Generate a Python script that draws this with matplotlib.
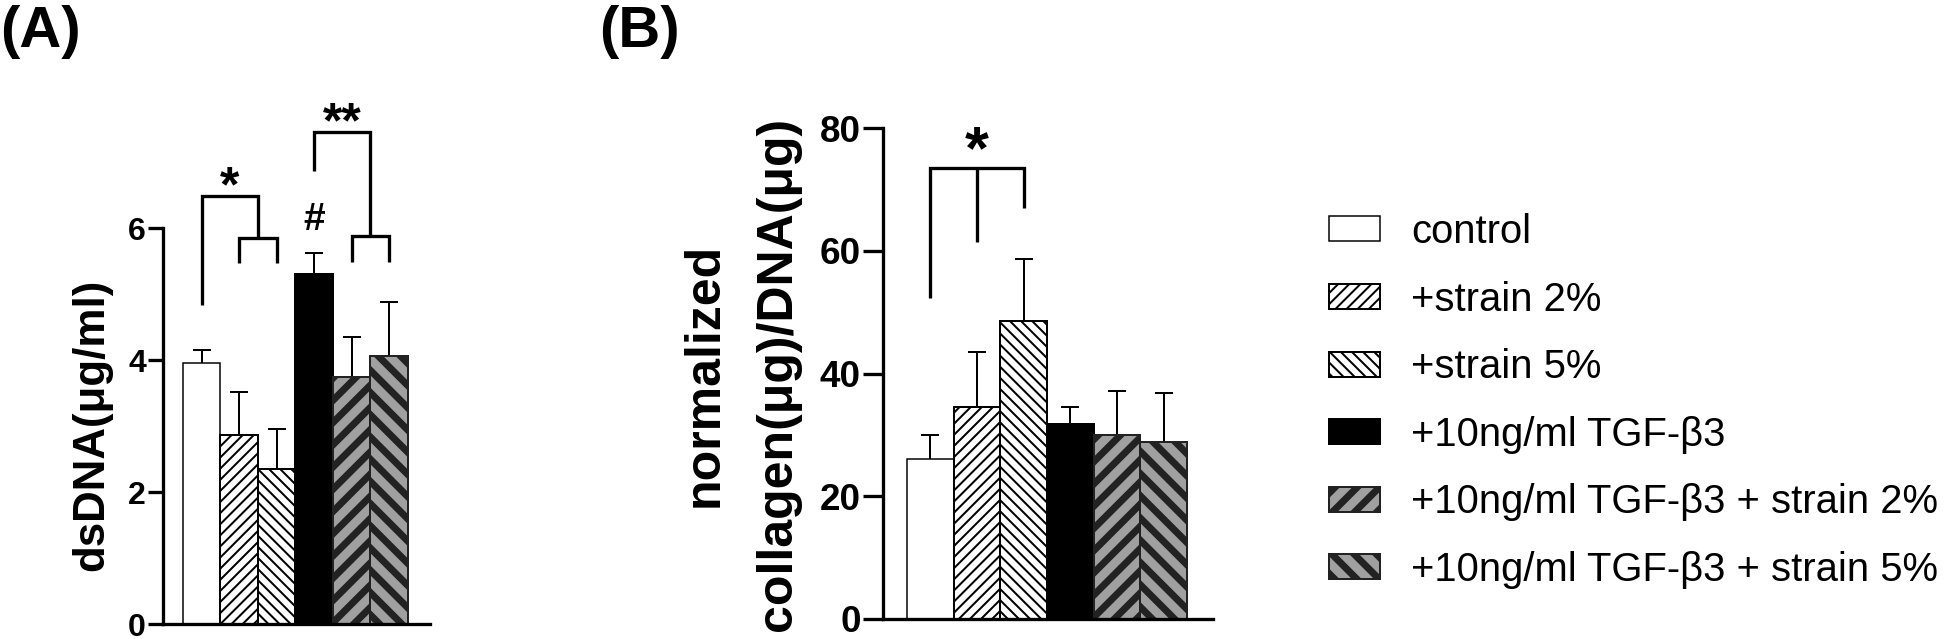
import matplotlib
matplotlib.use('Agg')
import matplotlib.pyplot as plt
import numpy as np

DPI = 200
W, H = 1946, 639


def pt(px):
    # pixel size -> points at this dpi
    return px * 72.0 / DPI


plt.rcParams['font.family'] = ['Liberation Sans', 'DejaVu Sans']
plt.rcParams['hatch.linewidth'] = pt(2)

groups = ['control', '+strain 2%', '+strain 5%', '+10ng/ml TGF-\u03b23',
          '+10ng/ml TGF-\u03b23 + strain 2%', '+10ng/ml TGF-\u03b23 + strain 5%']
dsdna_mean = [3.95, 2.87, 2.35, 5.30, 3.75, 4.06]
dsdna_sd = [0.20, 0.65, 0.60, 0.32, 0.60, 0.82]
coll_mean = [26.0, 34.5, 48.6, 31.7, 30.0, 28.8]
coll_sd = [4.0, 9.0, 10.0, 2.8, 7.2, 8.1]

a_ticks = [0, 2, 4, 6]
b_ticks = [0, 20, 40, 60, 80]

# significance brackets (bar index, value)
a_br1 = [(0, 4.83), (0, 6.49), (1.5, 6.49), (1.5, 5.85)]
a_br1_sub = [(1, 5.47), (1, 5.85), (2, 5.85), (2, 5.47)]
a_br2 = [(3, 6.86), (3, 7.45), (4.5, 7.45), (4.5, 5.88)]
a_br2_sub = [(4, 5.48), (4, 5.88), (5, 5.88), (5, 5.48)]
b_br = [(0, 52.3), (0, 73.5), (2, 73.5), (2, 67.0)]
b_br_mid = [(1, 73.5), (1, 61.4)]

face = ['white', 'white', 'white', 'black', '#a0a0a0', '#a0a0a0']
edge = ['black', 'black', 'black', 'black', '#222222', '#222222']
hatches = [None, '//////', '\\\\\\\\\\\\', None, '///', '\\\\\\']
hatch_w = [2, 2, 2, 2, 7, 7]
edge_w = [1.5, 2, 2, 2, 2, 2]

fig = plt.figure(figsize=(W / DPI, H / DPI), dpi=DPI)
axA = fig.add_axes([163 / W, 1 - 624 / H, (430 - 163) / W, (624 - 228) / H])
axB = fig.add_axes([883 / W, 1 - 619 / H, (1213 - 883) / W, (619 - 128) / H])


def draw_bars(ax, means, sds):
    x = np.arange(len(means))
    handles = []
    for i in range(len(means)):
        bc = ax.bar(x[i], means[i], width=1.0, color=face[i], edgecolor=edge[i],
                    linewidth=pt(edge_w[i]), hatch=hatches[i], label=groups[i],
                    zorder=2)
        for p in bc.patches:
            if hasattr(p, 'set_hatch_linewidth'):
                p.set_hatch_linewidth(pt(hatch_w[i]))
        handles.append(bc)
    ax.errorbar(x, means, yerr=sds, fmt='none', ecolor='black',
                elinewidth=pt(2), capsize=pt(9), capthick=pt(2), zorder=1)
    return handles


def style_axis(ax, ticks, ticklen, fsize):
    for s in ['top', 'right']:
        ax.spines[s].set_visible(False)
    for s in ['left', 'bottom']:
        ax.spines[s].set_linewidth(pt(3.3))
    ax.set_xticks([])
    ax.set_yticks(ticks)
    ax.set_ylim(ticks[0], ticks[-1])
    ax.tick_params(axis='y', length=pt(ticklen), width=pt(3.3), pad=pt(2),
                   labelsize=fsize)
    for lab in ax.get_yticklabels():
        lab.set_fontweight('bold')


def bracket(ax, pts):
    xs = [p[0] for p in pts]
    ys = [p[1] for p in pts]
    ax.plot(xs, ys, color='black', lw=pt(3.3), clip_on=False,
            solid_capstyle='butt', solid_joinstyle='miter', zorder=4)


# panel A
hA = draw_bars(axA, dsdna_mean, dsdna_sd)
axA.set_xlim(-1.033, 6.087)
style_axis(axA, a_ticks, 15, 11.5)
for b in [a_br1, a_br1_sub, a_br2, a_br2_sub]:
    bracket(axA, b)
axA.text(0.75, 6.41, '*', ha='center', va='baseline', fontsize=18,
         fontweight='bold', clip_on=False)
axA.text(3.75, 7.37, '**', ha='center', va='baseline', fontsize=18,
         fontweight='bold', clip_on=False)
axA.text(3.0, 5.97, '#', ha='center', va='baseline', fontsize=14,
         fontweight='bold', clip_on=False)

# panel B
hB = draw_bars(axB, coll_mean, coll_sd)
axB.set_xlim(-1.014, 6.057)
style_axis(axB, b_ticks, 20, 13.3)
bracket(axB, b_br)
bracket(axB, b_br_mid)
axB.text(1.0, 73.5, '*', ha='center', va='baseline', fontsize=22,
         fontweight='bold', clip_on=False)

# labels
fig.text(92 / W, 1 - 425 / H, 'dsDNA(\u03bcg/ml)', rotation=90, ha='center',
         va='center', fontsize=15.8, fontweight='bold')
fig.text(705 / W, 1 - 375 / H, 'normalized', rotation=90, ha='center',
         va='center', fontsize=18, fontweight='bold')
fig.text(778 / W, 1 - 374 / H, 'collagen(\u03bcg)/DNA(\u03bcg)', rotation=90,
         ha='center', va='center', fontsize=18, fontweight='bold')
fig.text(0 / W, 1 - 47 / H, '(A)', ha='left', va='baseline', fontsize=20.9,
         fontweight='bold')
fig.text(599 / W, 1 - 47 / H, '(B)', ha='left', va='baseline', fontsize=20.9,
         fontweight='bold')

leg = fig.legend(handles=hB, labels=groups, loc='upper left',
                 bbox_to_anchor=(1329 / W, 1 - 213 / H), frameon=False,
                 borderpad=0, borderaxespad=0, handlelength=1.275,
                 handleheight=0.58, handletextpad=0.78, labelspacing=0.74,
                 prop={'size': 14.4})
for i, p in enumerate(leg.get_patches()):
    if hasattr(p, 'set_hatch_linewidth'):
        p.set_hatch_linewidth(pt(hatch_w[i]))

fig.savefig('out.png', dpi=DPI)
